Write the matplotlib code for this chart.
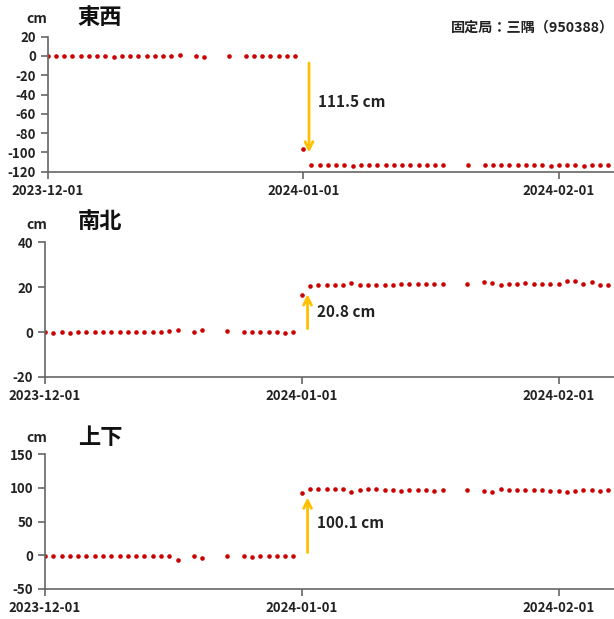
import pandas as pd
import matplotlib
matplotlib.use("Agg")
import matplotlib.pyplot as plt
import matplotlib.dates as mdates

plt.rcParams['font.family'] = ['Noto Sans CJK JP', 'DejaVu Sans']
plt.rcParams['axes.unicode_minus'] = False

dates = (
    ["2023-12-%02d" % d for d in [1, 2, 3, 4, 5, 6, 7, 8, 9, 10, 11, 12, 13, 14, 15, 16, 17,
                                   19, 20, 23, 25, 26, 27, 28, 29, 30, 31]]
    + ["2024-01-%02d" % d for d in [1, 2, 3, 4, 5, 6, 7, 8, 9, 10, 11, 12, 13, 14, 15, 16, 17, 18,
                                     21, 23, 24, 25, 26, 27, 28, 29, 30, 31]]
    + ["2024-02-%02d" % d for d in [1, 2, 3, 4, 5, 6, 7]]
)

ew = [0, 0, 0, 0, 0, 0, 0, 0, -0.7, 0, 0, 0, 0, 0, 0, 0, 1.0,
      0, -0.7, 0,
      0, 0, 0, 0, 0, 0, 0,
      -96.3,
      -112.7, -112.7, -112.7, -112.7, -112.7, -114.4, -112.7, -112.7, -112.7, -112.7, -112.7,
      -113.4, -112.7, -112.7, -113.4, -113.4, -112.7,
      -112.7,
      -113.4, -113.4, -113.4, -113.4, -113.4, -113.4, -113.4, -113.4, -114.4, -112.7, -113.4,
      -113.4, -114.4, -112.7, -112.7, -112.7]

ns = [0, -0.45, 0, -0.45, 0, 0, 0, 0, 0, 0, 0, 0, 0, 0, 0, 0.3, 0.74,
      0, 0.74, 0.3,
      0, 0, 0, 0, 0, -0.45, 0,
      16.6,
      20.7, 21.1, 21.1, 21.1, 21.1, 21.9, 21.1, 21.1, 21.1, 21.1, 21.1,
      21.4, 21.4, 21.4, 21.4, 21.4, 21.4,
      21.4,
      22.2, 21.9, 21.1, 21.4, 21.4, 21.9, 21.4, 21.4, 21.4, 21.4, 22.6,
      22.6, 21.4, 22.2, 21.1, 21.1]

ud = [-0.5, -0.5, -0.5, -0.5, -0.5, -0.5, -0.5, -0.5, -0.5, -0.5, -0.5, -0.5, -0.5, -0.5, -0.5, -0.5, -6.4,
      -0.5, -4.5, -0.5,
      -0.5, -2.0, -0.5, -0.5, -0.5, -0.5, -0.5,
      92.6,
      99.0, 98.0, 98.0, 98.0, 98.0, 94.6, 97.0, 98.5, 98.0, 97.0, 97.0,
      96.0, 97.0, 97.0, 97.0, 96.0, 97.0,
      97.0,
      96.0, 94.6, 98.5, 97.0, 97.0, 97.0, 97.0, 97.0, 96.0, 96.0, 94.6,
      96.0, 97.0, 97.0, 96.0, 97.0]

titles = ["東西", "南北", "上下"]
shift_labels = ["111.5 cm", "20.8 cm", "100.1 cm"]
ylims = [(-120, 20), (-20, 40), (-50, 150)]
yticks = [[-120, -100, -80, -60, -40, -20, 0, 20], [-20, 0, 20, 40], [-50, 0, 50, 100, 150]]
arrows = [(-4.5, -103), (0.3, 18.1), (0.0, 90.0)]
label_y = [-48, 9, 48.6]
station = "固定局：三隅（950388）"

W, H = 614, 619
fig = plt.figure(figsize=(W / 100, H / 100), dpi=100)

# axes boxes in pixels: left, top, bottom
boxes = [(47.7, 36.7, 171.7), (45, 242.3, 377), (45, 454.3, 589)]
head_y = [17, 222, 437]
cm_y = [19, 225, 438]

x = pd.to_datetime(dates)
t0 = pd.Timestamp("2023-12-01")
t1 = t0 + pd.Timedelta(days=68.7)
arrow_x = t0 + pd.Timedelta(days=31.7)
text_x = t0 + pd.Timedelta(days=32.8)
grey = "#666666"

for i, vals in enumerate([ew, ns, ud]):
    left, top, bot = boxes[i]
    ax = fig.add_axes([left / W, 1 - bot / H, (W - left) / W, (bot - top) / H])
    ax.plot(x, vals, 'o', color='#cc0000', markersize=3.3, markeredgewidth=0)
    ax.set_xlim(t0, t1)
    ax.set_ylim(*ylims[i])
    ax.set_yticks(yticks[i])
    ax.set_xticks(pd.to_datetime(["2023-12-01", "2024-01-01", "2024-02-01"]))
    ax.xaxis.set_major_formatter(mdates.DateFormatter("%Y-%m-%d"))
    for s in ['top', 'right']:
        ax.spines[s].set_visible(False)
    for s in ['left', 'bottom']:
        ax.spines[s].set_color(grey)
        ax.spines[s].set_linewidth(1.2)
    ax.tick_params(colors=grey, width=1.2, length=5, labelcolor='#222222', labelsize=9.5)
    for lab in ax.get_xticklabels() + ax.get_yticklabels():
        lab.set_fontweight('bold')
    ax.annotate("", xy=(arrow_x, arrows[i][1]), xytext=(arrow_x, arrows[i][0]),
                arrowprops=dict(arrowstyle='->', color='#ffc000', lw=2, mutation_scale=14))
    ax.text(text_x, label_y[i], shift_labels[i], fontsize=11, fontweight='bold',
            color='#222222', va='center', ha='left')
    fig.text(37 / W, 1 - cm_y[i] / H, "cm", fontsize=10, fontweight='bold',
             ha='center', va='center', color='#222222')
    fig.text(100 / W, 1 - head_y[i] / H, titles[i], fontsize=16, fontweight='bold',
             ha='center', va='center', color='#111111')

fig.text(614 / W, 1 - 28 / H, station, fontsize=10.2, fontweight='bold',
         ha='right', va='center', color='#222222')

fig.savefig("out.png", dpi=100)
